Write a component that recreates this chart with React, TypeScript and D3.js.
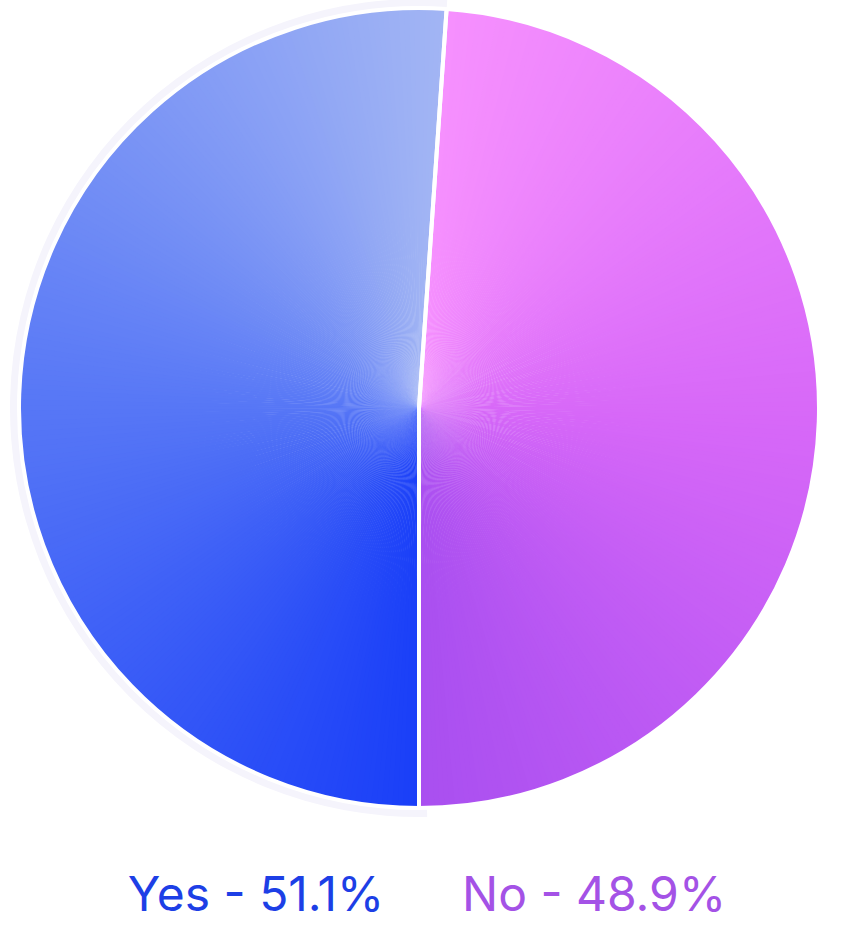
import React from "react";
import * as d3 from "d3";

const categories = ["Yes", "No"];
const values = [51.1, 48.9];
const sliceStops = [
  ["#1a3ff8", "#5878f6", "#a2b5f4"],
  ["#f690fe", "#d768f8", "#a94ff0"],
];
const labelColors = ["#1d3fe6", "#a452e6"];

const W = 856;
const H = 932;
const cx = 419;
const cy = 408;
const R = 400;

export default function App() {
  const pie = d3
    .pie<number>()
    .sort(null)
    .startAngle(Math.PI)
    .endAngle(3 * Math.PI);
  const arcs = pie(values);
  const arc = d3.arc<any>().innerRadius(0).outerRadius(R);
  const halo = d3.arc<any>().innerRadius(0).outerRadius(R + 9);
  const steps = 240;

  const wedges: { d: string; fill: string; key: string }[] = [];
  arcs.forEach((a, i) => {
    const interp = d3.piecewise(d3.interpolateRgb, sliceStops[i]);
    const span = a.endAngle - a.startAngle;
    for (let k = 0; k < steps; k++) {
      const s = a.startAngle + (span * k) / steps;
      const e = a.startAngle + (span * (k + 1)) / steps + (k < steps - 1 ? 0.004 : 0);
      wedges.push({
        key: `${i}-${k}`,
        d: arc({ startAngle: s, endAngle: e }) as string,
        fill: interp((k + 0.5) / steps),
      });
    }
  });

  const labelX = [256, 594];
  return (
    <svg
      width={W}
      height={H}
      style={{ position: "absolute", left: 0, top: 0, background: "#fff" }}
    >
      <g transform={`translate(${cx},${cy})`}>
        <path
          d={halo({ startAngle: arcs[0].startAngle - 0.02, endAngle: arcs[0].endAngle }) as string}
          fill="#f5f4fc"
        />
        <path d={arc({ startAngle: arcs[0].startAngle, endAngle: arcs[0].endAngle }) as string} fill="#ffffff" stroke="#fbfbfe" strokeWidth={3} />
        {wedges.map((w) => (
          <path key={w.key} d={w.d} fill={w.fill} />
        ))}
        {arcs.map((a, i) => (
          <path
            key={i}
            d={arc(a) as string}
            fill="none"
            stroke="#ffffff"
            strokeWidth={4}
            strokeLinejoin="round"
          />
        ))}
      </g>
      {categories.map((c, i) => (
        <text
          key={c}
          x={labelX[i]}
          y={911}
          textAnchor="middle"
          fontFamily="Inter, 'Noto Sans', sans-serif"
          fontSize={48}
          fontWeight={400}
          fill={labelColors[i]}
        >
          {`${c} - ${values[i]}%`}
        </text>
      ))}
    </svg>
  );
}
